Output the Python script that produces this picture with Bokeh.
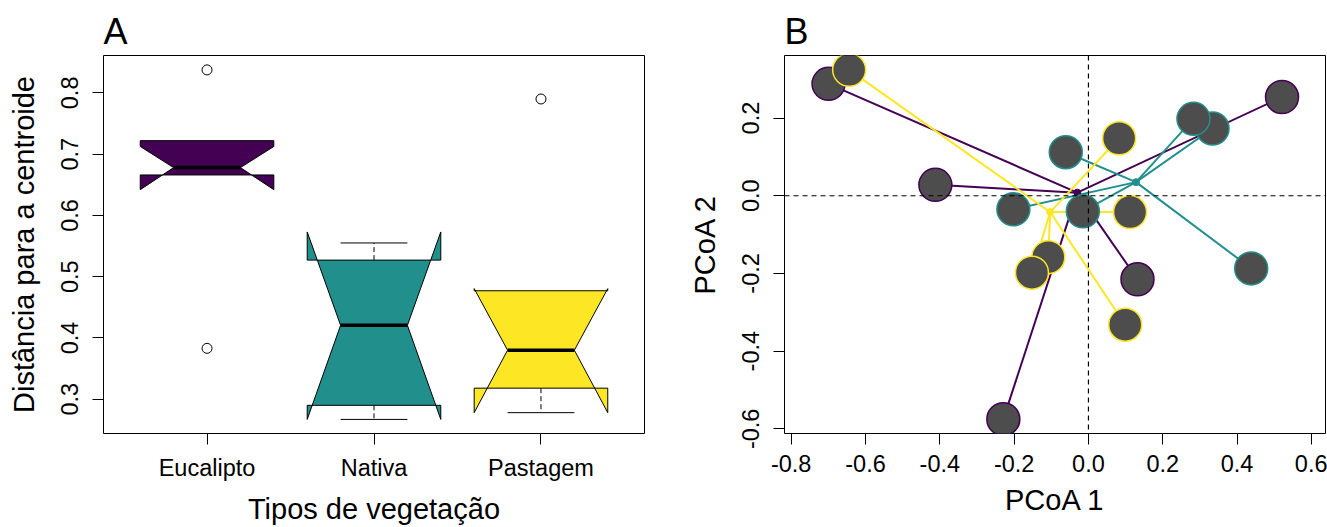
from bokeh.plotting import figure
from bokeh.layouts import row
from bokeh.models import Range1d, FixedTicker, Span
from bokeh.embed import file_html
from bokeh.resources import INLINE

FONT = "Liberation Sans"

# ---------------- Panel A data (box plot of distances to centroid) ----------------
categories = ["Eucalipto", "Nativa", "Pastagem"]
box_colors = ["#440154", "#21908C", "#FDE725"]
q1 = [0.666, 0.290, 0.318]
median = [0.678, 0.4206, 0.380]
q3 = [0.722, 0.527, 0.477]
notch_lo = [0.642, 0.267, 0.278]
notch_hi = [0.7125, 0.573, 0.4805]
whisker_lo = [0.666, 0.267, 0.278]
whisker_hi = [0.722, 0.555, 0.477]
outlier_group = [1, 1, 3]
outlier_value = [0.8375, 0.383, 0.790]
a_yticks = [0.3, 0.4, 0.5, 0.6, 0.7, 0.8]
a_ylabels = ["0.3", "0.4", "0.5", "0.6", "0.7", "0.8"]

# ---------------- Panel B data (PCoA) ----------------
group_colors = ["#440154", "#21908C", "#FDE725"]
euc_x = [-0.6995, -0.412, -0.229, 0.132, 0.521]
euc_y = [0.288, 0.028, -0.575, -0.215, 0.254]
nat_x = [-0.061, -0.202, -0.015, 0.334, 0.2826, 0.438]
nat_y = [0.112, -0.035, -0.040, 0.173, 0.198, -0.187]
pas_x = [-0.644, 0.0826, 0.112, 0.099, -0.108, -0.152]
pas_y = [0.324, 0.148, -0.042, -0.332, -0.158, -0.198]
centroid_x = [-0.030, 0.128, -0.103]
centroid_y = [0.008, 0.035, -0.042]
b_xticks = [-0.8, -0.6, -0.4, -0.2, 0.0, 0.2, 0.4, 0.6]
b_xlabels = ["-0.8", "-0.6", "-0.4", "-0.2", "0.0", "0.2", "0.4", "0.6"]
b_yticks = [-0.6, -0.4, -0.2, 0.0, 0.2]
b_ylabels = ["-0.6", "-0.4", "-0.2", "0.0", "0.2"]

H = 527


def style(p, title):
    p.outline_line_color = "black"
    p.outline_line_width = 1
    p.outline_line_alpha = 1
    p.background_fill_color = "white"
    p.border_fill_color = "white"
    p.grid.visible = False
    for ax in p.axis:
        ax.axis_line_color = None
        ax.major_tick_in = 0
        ax.major_tick_out = 11
        ax.major_tick_line_color = "black"
        ax.major_tick_line_width = 1
        ax.minor_tick_line_color = None
        ax.major_label_text_font = FONT
        ax.major_label_text_font_size = "23.5px"
        ax.major_label_text_color = "black"
        ax.axis_label_text_font = FONT
        ax.axis_label_text_font_size = "29px"
        ax.axis_label_text_font_style = "normal"
        ax.axis_label_text_color = "black"
    p.yaxis.major_label_orientation = "vertical"
    p.yaxis.major_label_standoff = 14
    p.xaxis.major_label_standoff = 10
    p.xaxis.axis_label_standoff = 9
    p.yaxis.axis_label_standoff = 19
    p.title.text = title
    p.title.text_font = FONT
    p.title.text_font_size = "36px"
    p.title.text_font_style = "normal"
    p.title.text_color = "black"
    p.title.align = "left"
    p.title.offset = 0
    p.title.standoff = 7


# ---------------- Panel A ----------------
pA = figure(width=664, height=H, output_backend="svg", toolbar_location=None,
            x_range=Range1d(0.38, 3.62), y_range=Range1d(0.244, 0.861),
            min_border_left=103, min_border_right=20, min_border_top=55, min_border_bottom=H - 433)
style(pA, "A")
pA.xaxis.axis_label = "Tipos de vegetação"
pA.yaxis.axis_label = "Distância para a centroide"
pA.xaxis.ticker = FixedTicker(ticks=[1, 2, 3])
pA.xaxis.major_label_overrides = {i + 1: c for i, c in enumerate(categories)}
pA.yaxis.ticker = FixedTicker(ticks=a_yticks)
pA.yaxis.major_label_overrides = dict(zip(a_yticks, a_ylabels))

w = 0.4
xs, ys = [], []
for i in range(len(categories)):
    x = i + 1
    xs.append([x - w, x - w, x - w / 2, x - w, x - w, x + w, x + w, x + w / 2, x + w, x + w])
    ys.append([q1[i], notch_lo[i], median[i], notch_hi[i], q3[i],
               q3[i], notch_hi[i], median[i], notch_lo[i], q1[i]])

# whiskers (dashed) and caps
wx, wy0, wy1, cx0, cx1, cy = [], [], [], [], [], []
for i in range(len(categories)):
    x = i + 1
    if whisker_hi[i] > q3[i]:
        wx.append(x); wy0.append(q3[i]); wy1.append(whisker_hi[i])
        cx0.append(x - w / 2); cx1.append(x + w / 2); cy.append(whisker_hi[i])
    if whisker_lo[i] < q1[i]:
        wx.append(x); wy0.append(q1[i]); wy1.append(whisker_lo[i])
        cx0.append(x - w / 2); cx1.append(x + w / 2); cy.append(whisker_lo[i])

pA.segment(x0=wx, y0=wy0, x1=wx, y1=wy1, line_color="black", line_width=1, line_dash="5 3")
pA.segment(x0=cx0, y0=cy, x1=cx1, y1=cy, line_color="black", line_width=1)
pA.patches(xs=xs, ys=ys, fill_color=box_colors, line_color="black", line_width=1)
pA.segment(x0=[i + 1 - w / 2 for i in range(3)], y0=median,
           x1=[i + 1 + w / 2 for i in range(3)], y1=median,
           line_color="black", line_width=3.5)
pA.scatter(x=outlier_group, y=outlier_value, size=10, marker="circle",
           fill_color="white", line_color="black", line_width=1)

# ---------------- Panel B ----------------
pB = figure(width=663, height=H, output_backend="svg", toolbar_location=None,
            x_range=Range1d(-0.818, 0.638), y_range=Range1d(-0.612, 0.361),
            min_border_left=120, min_border_right=2, min_border_top=55, min_border_bottom=H - 433)
style(pB, "B")
pB.xaxis.axis_label = "PCoA 1"
pB.yaxis.axis_label = "PCoA 2"
pB.xaxis.ticker = FixedTicker(ticks=b_xticks)
pB.xaxis.major_label_overrides = dict(zip(b_xticks, b_xlabels))
pB.yaxis.ticker = FixedTicker(ticks=b_yticks)
pB.yaxis.major_label_overrides = dict(zip(b_yticks, b_ylabels))

groups = [(euc_x, euc_y), (nat_x, nat_y), (pas_x, pas_y)]
for g, (gx, gy) in enumerate(groups):
    pB.segment(x0=[centroid_x[g]] * len(gx), y0=[centroid_y[g]] * len(gy), x1=gx, y1=gy,
               line_color=group_colors[g], line_width=2)
pB.scatter(x=centroid_x, y=centroid_y, size=7, marker="circle",
           fill_color=group_colors, line_color=group_colors)
for g, (gx, gy) in enumerate(groups):
    pB.scatter(x=gx, y=gy, size=33, marker="circle", fill_color="#4D4D4D",
               line_color=group_colors[g], line_width=1.5)

pB.add_layout(Span(location=0, dimension="width", line_color="black", line_width=1.2, line_dash="5 4"))
pB.add_layout(Span(location=0, dimension="height", line_color="black", line_width=1.2, line_dash="5 4"))

layout = row(pA, pB)
open("out.html", "w").write(file_html(layout, INLINE))
